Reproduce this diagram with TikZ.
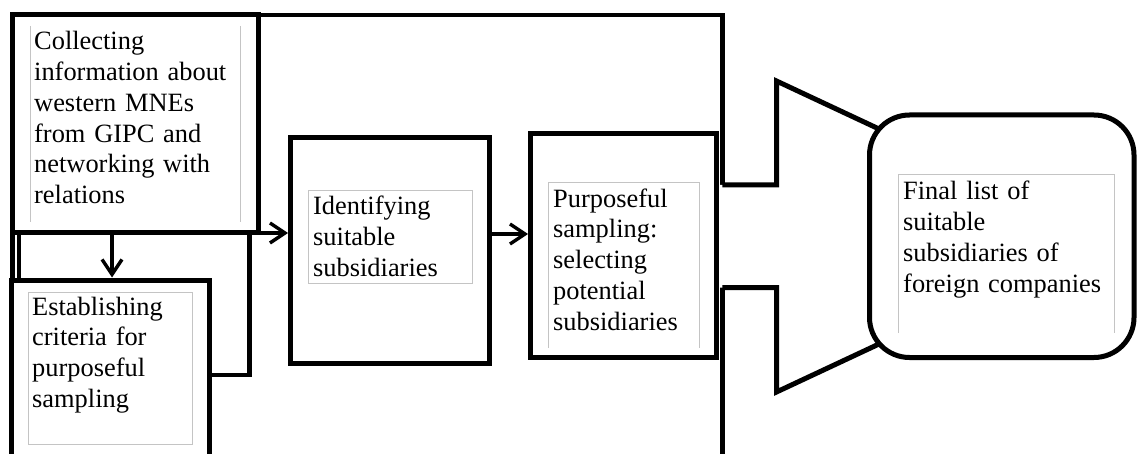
\documentclass[tikz,border=0pt]{standalone}
\usepackage{fontspec}
\setmainfont{Liberation Serif}
\usetikzlibrary{arrows.meta}
\definecolor{innergray}{RGB}{196,196,196}
\begin{document}
\begin{tikzpicture}[x=1pt,y=-1pt,
  thickbox/.style={draw=black, line width=5pt, fill=white, inner sep=0pt},
  thinbox/.style={draw=black, line width=4.3pt, fill=white, inner sep=0pt},
  inbox/.style={draw=innergray, line width=1pt},
  arr/.style={draw=black, line width=3.4pt, -{Straight Barb[length=15pt,width=20pt]}},
  lbl/.style={anchor=base west, inner sep=0pt, text width=240pt, align=left,
    font={\fontsize{26.4pt}{30.7pt}\selectfont}}]
\useasboundingbox (0,0) rectangle (1137,454);

% large frame (background)
\node[draw=black, line width=4.5pt, inner sep=0pt, minimum width=709.8pt, minimum height=465pt] (frame) at (367.4,247.5) {};
% rectangle behind the first box
\node[thinbox, minimum width=230.8pt, minimum height=314.7pt] (back) at (134.1,217.35) {};
% main boxes
\node[thickbox, minimum width=245.5pt, minimum height=218pt] (collect) at (135.25,124) {};
\node[thickbox, minimum width=198.5pt, minimum height=200pt] (estab) at (110.25,380) {};
\node[thickbox, minimum width=199pt, minimum height=225.5pt] (ident) at (390,250.25) {};
\node[thickbox, minimum width=185.5pt, minimum height=223.5pt] (purp) at (623.25,245.75) {};

% inner grey text frames
\draw[inbox] (30.7,26) -- (30.7,222) (240,26) -- (240,222);
\draw[inbox] (28,292) rectangle (192,444);
\draw[inbox] (308,191) rectangle (472,283);
\draw[inbox] (548.7,348) -- (548.7,183) -- (699.3,183) -- (699.3,348);
\draw[inbox] (898,333) -- (898,175) -- (1114,175) -- (1114,333);

% arrows
\coordinate (c1) at (258,233);
\coordinate (c2) at (489.5,234);
\coordinate (c3) at (112,233);
\draw[arr] (c1) -- (c1 -| ident.west);
\draw[arr] (c2 -| ident.east) -- (c2 -| purp.west);
\draw[arr] (c3) -- (c3 |- estab.north);

% funnel-shaped connector towards the final list
\coordinate (s1) at (722.3,185);
\coordinate (s2) at (776.5,185);
\coordinate (s3) at (776.5,81);
\coordinate (s4) at (910,143.5);
\coordinate (t1) at (722.3,287.5);
\coordinate (t2) at (776.5,287.5);
\coordinate (t3) at (776.5,392);
\coordinate (t4) at (910,329.5);
\fill[white] (719.5,185) -- (s2) -- (s3) -- (s4) -- (t4) -- (t3) -- (t2) -- (719.5,287.5) -- cycle;
\draw[line width=5pt, line join=miter] (s1) -- (s2) -- (s3) -- (s4);
\draw[line width=5pt, line join=miter] (t1) -- (t2) -- (t3) -- (t4);

% final rounded box
\node[thickbox, rounded corners=40pt, minimum width=264.5pt, minimum height=242.5pt] (final) at (1001.75,236.25) {};
\draw[inbox] (898,333) -- (898,175) -- (1114,175) -- (1114,333);

% texts
\node[lbl] (tcollect) at (34,50) {Collecting\\information about\\western MNEs\\from GIPC and\\networking with\\relations};
\node[lbl] (testab) at (32,315) {Establishing\\criteria for\\purposeful\\sampling};
\node[lbl] (tident) at (313,215) {Identifying\\suitable\\subsidiaries};
\node[lbl] (tpurp) at (553,207.3) {Purposeful\\sampling:\\selecting\\potential\\subsidiaries};
\node[lbl] (tfinal) at (903,200) {Final list of\\suitable\\subsidiaries of\\foreign companies};
\end{tikzpicture}
\end{document}
